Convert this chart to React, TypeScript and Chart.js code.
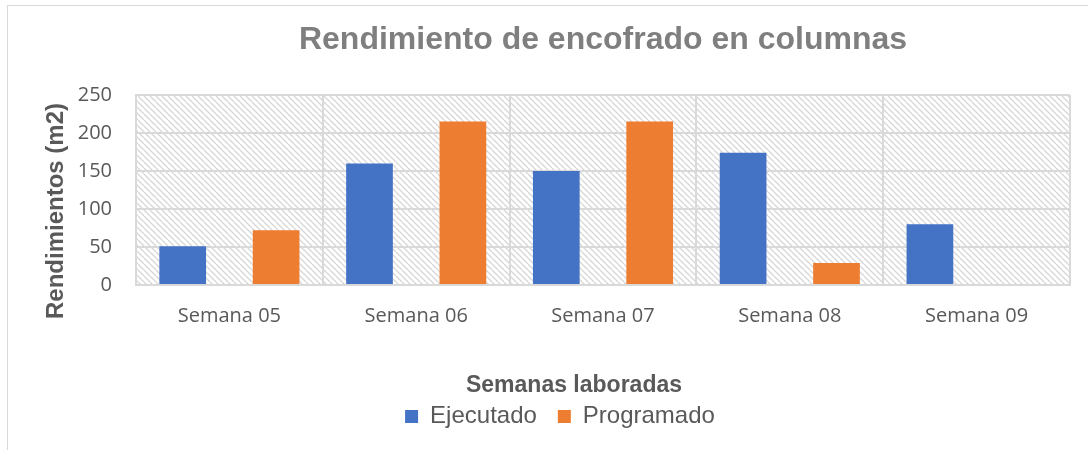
import React, { useEffect, useRef } from "react";
import { Chart, registerables } from "chart.js";

Chart.register(...registerables);

const chartTitle = "Rendimiento de encofrado en columnas";
const yAxisTitle = "Rendimientos (m2)";
const xAxisTitle = "Semanas laboradas";
const categories = ["Semana 05", "Semana 06", "Semana 07", "Semana 08", "Semana 09"];
const ejecutado = [51, 160, 150, 174, 80];
const programado = [72, 215, 215, 29, 0];
const spacer = [null, null, null, null, null];
const yMin = 0;
const yMax = 250;
const yStep = 50;

const GRID = "#d9d9d9";
const TEXT = "#595959";

function makeHatch(): CanvasPattern | string {
  const c = document.createElement("canvas");
  c.width = 6;
  c.height = 6;
  const g = c.getContext("2d");
  if (!g) return "#ffffff";
  g.fillStyle = "#ffffff";
  g.fillRect(0, 0, 6, 6);
  g.strokeStyle = "#d6d6d6";
  g.lineWidth = 1.3;
  for (const off of [-6, 0, 6]) {
    g.beginPath();
    g.moveTo(off, 0);
    g.lineTo(off + 6, 6);
    g.stroke();
  }
  const p = g.createPattern(c, "repeat");
  return p || "#ffffff";
}

export default function App() {
  const ref = useRef<HTMLCanvasElement | null>(null);

  useEffect(() => {
    const canvas = ref.current;
    if (!canvas) return;
    const hatch = makeHatch();

    const hatchPlugin = {
      id: "hatchBg",
      beforeDraw(chart: any) {
        const { ctx, chartArea } = chart;
        if (!chartArea) return;
        ctx.save();
        ctx.fillStyle = hatch;
        ctx.fillRect(chartArea.left, chartArea.top, chartArea.right - chartArea.left, chartArea.bottom - chartArea.top);
        ctx.restore();
      },
    };

    const axisTitlesPlugin = {
      id: "axisTitles",
      afterDraw(chart: any) {
        const { ctx } = chart;
        ctx.save();
        ctx.fillStyle = TEXT;
        ctx.textAlign = "center";
        ctx.textBaseline = "middle";
        ctx.font = "bold 23px 'Liberation Sans', Arial, sans-serif";
        ctx.fillText(xAxisTitle, 574, 386);
        ctx.translate(56, 211);
        ctx.rotate(-Math.PI / 2);
        ctx.font = "bold 24px 'Liberation Sans', Arial, sans-serif";
        ctx.fillText(yAxisTitle, 0, 0);
        ctx.restore();
      },
    };

    const chart = new Chart(canvas, {
      type: "bar",
      data: {
        labels: categories,
        datasets: [
          { label: "Ejecutado", data: ejecutado, backgroundColor: "#4472C4", borderWidth: 0 },
          { label: "", data: spacer as any, backgroundColor: "rgba(0,0,0,0)", borderWidth: 0 },
          { label: "Programado", data: programado, backgroundColor: "#ED7D31", borderWidth: 0 },
        ],
      },
      options: {
        responsive: false,
        animation: false,
        events: [],
        datasets: {
          bar: { categoryPercentage: 0.75, barPercentage: 1 },
        },
        layout: { padding: { left: 50, right: 18, top: 0, bottom: 11.5 } },
        scales: {
          x: {
            grid: { color: GRID, lineWidth: 2, drawTicks: false, offset: true },
            border: { color: GRID, width: 2 },
            ticks: {
              color: TEXT,
              padding: 19,
              font: { family: "'Open Sans', sans-serif", size: 20 },
              maxRotation: 0,
            },
            afterFit: (scale: any) => {
              scale.height = 98.5;
            },
          },
          y: {
            min: yMin,
            max: yMax,
            grid: { color: GRID, lineWidth: 2, drawTicks: false },
            border: { color: GRID, width: 2 },
            ticks: {
              stepSize: yStep,
              color: TEXT,
              padding: 24,
              font: { family: "'Open Sans', sans-serif", size: 20 },
            },
            afterFit: (scale: any) => {
              scale.width = 86;
            },
          },
        },
        plugins: {
          title: {
            display: true,
            text: chartTitle,
            fullSize: false,
            color: "#7f7f7f",
            font: { family: "'Liberation Sans', Arial, sans-serif", size: 32, weight: "bold" },
            padding: { top: 20.8, bottom: 35.8 },
          },
          legend: {
            position: "bottom",
            labels: {
              color: TEXT,
              boxWidth: 13,
              boxHeight: 13,
              padding: 21,
              font: { family: "'Liberation Sans', Arial, sans-serif", size: 24 },
              filter: (item: any) => item.text !== "",
            },
          },
          tooltip: { enabled: false },
        },
      },
      plugins: [hatchPlugin, axisTitlesPlugin],
    });

    return () => chart.destroy();
  }, []);

  return (
    <div style={{ position: "fixed", left: 0, top: 0, width: 1088, height: 450, overflow: "hidden", background: "#ffffff" }}>
      <div
        style={{
          position: "absolute",
          left: 7,
          top: 5,
          width: 1200,
          height: 600,
          borderLeft: "1px solid #d9d9d9",
          borderTop: "1px solid #d9d9d9",
        }}
      />
      <canvas ref={ref} width={1088} height={450} style={{ position: "absolute", left: 0, top: 0, width: 1088, height: 450 }} />
    </div>
  );
}
